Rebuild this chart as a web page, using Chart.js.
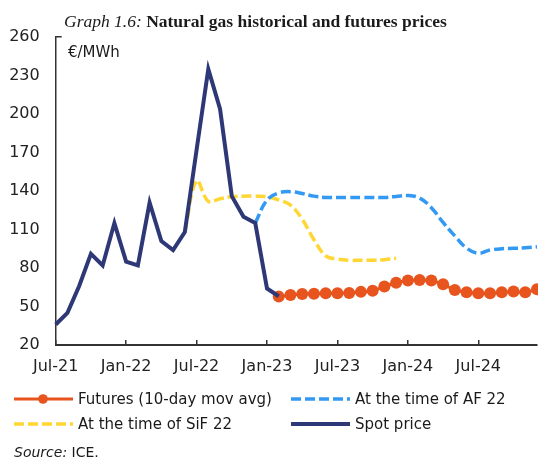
<!DOCTYPE html>
<html lang="en">
<head>
<meta charset="UTF-8">
<title>Natural gas historical and futures prices</title>
<script src="https://cdn.jsdelivr.net/npm/chart.js@4.4.1/dist/chart.umd.min.js"></script>
<style>
    body {
        margin: 0;
        background: #fff;
        font-family: "DejaVu Sans", sans-serif;
        color: #1a1a1a;
    }
    #wrap {
        position: relative;
        width: 538px;
        height: 461px;
        overflow: hidden;
    }
    #gasChart {
        position: absolute;
        left: 0;
        top: 0;
    }
    .title {
        position: absolute;
        left: 64px;
        top: 11px;
        font-family: "Liberation Serif", serif;
        font-size: 17.5px;
        line-height: 20px;
        white-space: nowrap;
    }
    .unit {
        position: absolute;
        left: 68px;
        top: 42px;
        font-size: 15px;
        line-height: 20px;
    }
    .legend-item {
        position: absolute;
        display: flex;
        align-items: center;
        height: 20px;
        font-size: 15px;
        white-space: nowrap;
    }
    .legend-item svg {
        margin-right: 5px;
    }
    .source {
        position: absolute;
        left: 14px;
        top: 442px;
        font-size: 14px;
        line-height: 20px;
    }
</style>
</head>
<body>
<div id="wrap">
    <canvas id="gasChart" width="538" height="461"></canvas>
    <div class="title"><i>Graph 1.6:</i> <b>Natural gas historical and futures prices</b></div>
    <div class="unit">€/MWh</div>

    <div class="legend-item" style="left:14px; top:389px;">
        <svg width="59" height="12"><line x1="0" y1="6" x2="59" y2="6" stroke="#E8541E" stroke-width="3"/><circle cx="29" cy="6" r="4.8" fill="#E8541E"/></svg>
        Futures (10-day mov avg)
    </div>
    <div class="legend-item" style="left:291px; top:389px;">
        <svg width="59" height="12"><line x1="0" y1="6" x2="59" y2="6" stroke="#3399F3" stroke-width="3.5" stroke-dasharray="10 4"/></svg>
        At the time of AF 22
    </div>
    <div class="legend-item" style="left:14px; top:414px;">
        <svg width="59" height="12"><line x1="0" y1="6" x2="59" y2="6" stroke="#FFD633" stroke-width="3.5" stroke-dasharray="10 4"/></svg>
        At the time of SiF 22
    </div>
    <div class="legend-item" style="left:291px; top:414px;">
        <svg width="59" height="12"><line x1="0" y1="6" x2="59" y2="6" stroke="#2E3877" stroke-width="4"/></svg>
        Spot price
    </div>

    <div class="source"><i>Source:</i> ICE.</div>
</div>

<script>
    // monthly categories, a label is shown every 6 months
    const months = [
        'Jul-21', 'Aug-21', 'Sep-21', 'Oct-21', 'Nov-21', 'Dec-21',
        'Jan-22', 'Feb-22', 'Mar-22', 'Apr-22', 'May-22', 'Jun-22',
        'Jul-22', 'Aug-22', 'Sep-22', 'Oct-22', 'Nov-22', 'Dec-22',
        'Jan-23', 'Feb-23', 'Mar-23', 'Apr-23', 'May-23', 'Jun-23',
        'Jul-23', 'Aug-23', 'Sep-23', 'Oct-23', 'Nov-23', 'Dec-23',
        'Jan-24', 'Feb-24', 'Mar-24', 'Apr-24', 'May-24', 'Jun-24',
        'Jul-24', 'Aug-24', 'Sep-24', 'Oct-24', 'Nov-24', 'Dec-24'
    ];

    // spot price, Jul-21 .. Feb-23
    const spotStart = 'Jul-21';
    const spotPrice = [36, 45, 66, 91, 82, 115, 85, 82, 131, 101, 94, 108,
                       172, 235, 204, 136, 120, 115, 64, 58];

    // futures (10-day moving average), Feb-23 .. Dec-24
    const futuresStart = 'Feb-23';
    const futuresPrice = [57.7, 59, 59.8, 60, 60.3, 60.3, 60.6, 61.4, 62.2, 65.5, 68.5, 70.3,
                          70.7, 70.2, 67.3, 62.9, 61.1, 60.3, 60.3, 61.1, 61.6, 61.1, 63.4];

    // futures curve at the time of AF 22, Dec-22 .. Dec-24
    const afStart = 'Dec-22';
    const afCurve = [115, 133, 138.5, 139.5, 138, 136, 135, 135, 135, 135, 135, 135, 135.8,
                     136.5, 134.5, 127, 115.5, 105, 95.5, 91.5, 94, 95, 95.3, 95.7, 96.5];

    // futures curve at the time of SiF 22, Jun-22 .. Dec-23
    const sifStart = 'Jun-22';
    const sifCurve = [108, 148, 132, 134, 135.5, 136, 136, 135.5, 133, 129, 118, 102,
                      89.5, 87, 86, 86, 86, 86.5, 87.5];

    function place(values, startMonth) {
        const start = months.indexOf(startMonth);
        return months.map((m, i) => (i >= start && i - start < values.length) ? values[i - start] : null);
    }

    const axisColor = '#333';
    const tickFont = { family: '"DejaVu Sans", sans-serif', size: 16 };

    new Chart(document.getElementById('gasChart'), {
        type: 'line',
        data: {
            labels: months,
            datasets: [
                {
                    label: 'Spot price',
                    data: place(spotPrice, spotStart),
                    borderColor: '#2E3877',
                    borderWidth: 4,
                    pointRadius: 0,
                    tension: 0,
                    order: 0
                },
                {
                    label: 'Futures (10-day mov avg)',
                    data: place(futuresPrice, futuresStart),
                    borderColor: '#E8541E',
                    backgroundColor: '#E8541E',
                    borderWidth: 3,
                    pointRadius: 6,
                    pointBorderWidth: 0,
                    tension: 0.3,
                    order: 1
                },
                {
                    label: 'At the time of AF 22',
                    data: place(afCurve, afStart),
                    borderColor: '#3399F3',
                    borderWidth: 3.5,
                    borderDash: [10, 4],
                    pointRadius: 0,
                    tension: 0.4,
                    order: 2
                },
                {
                    label: 'At the time of SiF 22',
                    data: place(sifCurve, sifStart),
                    borderColor: '#FFD633',
                    borderWidth: 3.5,
                    borderDash: [10, 4],
                    pointRadius: 0,
                    tension: 0.4,
                    order: 3
                }
            ]
        },
        options: {
            responsive: false,
            animation: false,
            layout: {
                autoPadding: false,
                padding: { top: 37, right: 1, bottom: 76, left: 0 }
            },
            plugins: {
                legend: { display: false },
                tooltip: { enabled: false }
            },
            scales: {
                x: {
                    offset: false,
                    grid: {
                        drawOnChartArea: false,
                        tickLength: -5,
                        lineWidth: 1.5,
                        color: ctx => ctx.index % 6 === 0 ? axisColor : 'rgba(0,0,0,0)',
                        tickColor: ctx => ctx.index % 6 === 0 ? axisColor : 'rgba(0,0,0,0)'
                    },
                    border: { color: axisColor, width: 2 },
                    ticks: {
                        autoSkip: false,
                        maxRotation: 0,
                        padding: 17,
                        color: '#222',
                        font: tickFont,
                        callback: (v, i) => i % 6 === 0 ? months[i] : ''
                    },
                    afterFit: scale => {
                        scale.height = 40;
                        scale.paddingLeft = 0;
                        scale.paddingRight = 0;
                    }
                },
                y: {
                    min: 20,
                    max: 260,
                    grid: {
                        drawOnChartArea: false,
                        tickLength: -6,
                        lineWidth: 1.5,
                        color: ctx => ctx.tick && ctx.tick.value === 260 ? axisColor : 'rgba(0,0,0,0)',
                        tickColor: ctx => ctx.tick && ctx.tick.value === 260 ? axisColor : 'rgba(0,0,0,0)'
                    },
                    border: { color: axisColor, width: 1.5 },
                    ticks: {
                        stepSize: 30,
                        padding: 22,
                        color: '#222',
                        font: tickFont
                    },
                    afterFit: scale => {
                        scale.width = 55.7;
                        scale.paddingTop = 0;
                        scale.paddingBottom = 0;
                    }
                }
            }
        }
    });
</script>
</body>
</html>
